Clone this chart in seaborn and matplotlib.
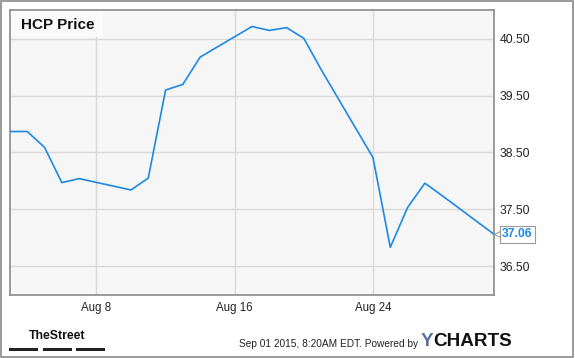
import matplotlib
matplotlib.use("Agg")
import matplotlib.pyplot as plt
import matplotlib.transforms as mtrans
from matplotlib.patches import Rectangle
import seaborn as sns
import pandas as pd

dates = ["2015-08-03", "2015-08-04", "2015-08-05", "2015-08-06", "2015-08-07",
         "2015-08-10", "2015-08-11", "2015-08-12", "2015-08-13", "2015-08-14",
         "2015-08-17", "2015-08-18", "2015-08-19", "2015-08-20", "2015-08-21",
         "2015-08-24", "2015-08-25", "2015-08-26", "2015-08-27", "2015-08-28",
         "2015-08-31"]
prices = [38.87, 38.87, 38.59, 37.97, 38.04,
          37.84, 38.05, 39.60, 39.70, 40.18,
          40.72, 40.65, 40.70, 40.51, 39.96,
          38.41, 36.83, 37.53, 37.96, 37.74,
          37.06]
y_ticks = [36.5, 37.5, 38.5, 39.5, 40.5]
x_ticks = ["2015-08-08", "2015-08-16", "2015-08-24"]
x_tick_labels = ["Aug 8", "Aug 16", "Aug 24"]
title = "HCP Price"
last_label = "37.06"
footer = "Sep 01 2015, 8:20AM EDT. Powered by"

sns.set_style("white")
plt.rcParams["font.family"] = ["Liberation Sans", "DejaVu Sans"]

df = pd.DataFrame({"date": pd.to_datetime(dates), "price": prices})

W, H = 575, 358
fig = plt.figure(figsize=(W / 100, H / 100), dpi=100)
fig.patch.set_facecolor("white")

def fx(px):
    return px / W

def fy(py):
    return 1 - py / H

ax = fig.add_axes([fx(10), fy(295), fx(494) - fx(10), fy(10) - fy(295)])
ax.set_facecolor("#f6f6f6")

sns.lineplot(data=df, x="date", y="price", ax=ax, color="#1e88e5", linewidth=1.2, zorder=3)

ax.set_xlim(pd.Timestamp("2015-08-03"), pd.Timestamp("2015-08-31"))
ax.set_ylim(35.99, 41.01)
ax.set_yticks(y_ticks)
ax.set_yticklabels([f"{v:.2f}" for v in y_ticks])
ax.set_xticks(pd.to_datetime(x_ticks))
ax.set_xticklabels(x_tick_labels)
ax.yaxis.tick_right()
ax.tick_params(axis="y", length=0, pad=4.0, labelsize=8.8, colors="#222222")
ax.tick_params(axis="x", length=0, pad=5, labelsize=8.3, colors="#222222")
ax.grid(True, color="#d8d8d8", linewidth=1)
ax.set_axisbelow(True)
ax.set_xlabel("")
ax.set_ylabel("")
for s in ax.spines.values():
    s.set_color("#8a8a8a")
    s.set_linewidth(1.2)

# title box
ax.add_patch(Rectangle((0, 1), (103 - 10) / 484, -(37 - 10) / 285, transform=ax.transAxes,
                       facecolor="#fafafa", edgecolor="none", zorder=2))
ax.text(11 / 484, 1 - 15 / 285, title, transform=ax.transAxes, fontsize=11,
        fontweight="bold", color="#111111", va="center", ha="left", zorder=4)

# last value label
trans = mtrans.blended_transform_factory(ax.transAxes, ax.transData)
ax.text(1 + 8 / 484, prices[-1], last_label, transform=trans, fontsize=8.7,
        fontweight="bold", color="#1e88e5", va="center", ha="left", clip_on=False,
        zorder=5,
        bbox=dict(boxstyle="square,pad=0.2", facecolor="white", edgecolor="#999999", linewidth=0.8))
ax.plot([1 + 3 / 484], [prices[-1]], marker="<", markersize=5, markerfacecolor="white",
        markeredgecolor="#999999", markeredgewidth=0.8, transform=trans, clip_on=False, zorder=6)

# outer frame
fig.add_artist(Rectangle((fx(0.5), fy(357)), fx(573) - fx(0.5), fy(0.5) - fy(357),
                         transform=fig.transFigure, facecolor="none", edgecolor="#8a8a8a",
                         linewidth=1.2))

# TheStreet logo
fig.text(fx(57), fy(336), "TheStreet", fontsize=8.8, fontweight="bold", color="#111111",
         ha="center", va="center")
for x0, x1 in [(9, 38), (43, 72), (76, 105)]:
    fig.add_artist(Rectangle((fx(x0), fy(351)), fx(x1) - fx(x0), fy(348) - fy(351),
                             transform=fig.transFigure, facecolor="#222222", edgecolor="none"))

# footer
fig.text(fx(418), fy(344), footer, fontsize=7.3, color="#222222", ha="right", va="center")
fig.text(fx(421), fy(342), "Y", fontsize=13.6, fontweight="bold", color="#5b6f9e",
         ha="left", va="center")
fig.text(fx(433.5), fy(342), "CHARTS", fontsize=13.6, fontweight="bold", color="#111111",
         ha="left", va="center")

fig.savefig("out.png", dpi=100, facecolor="white")
